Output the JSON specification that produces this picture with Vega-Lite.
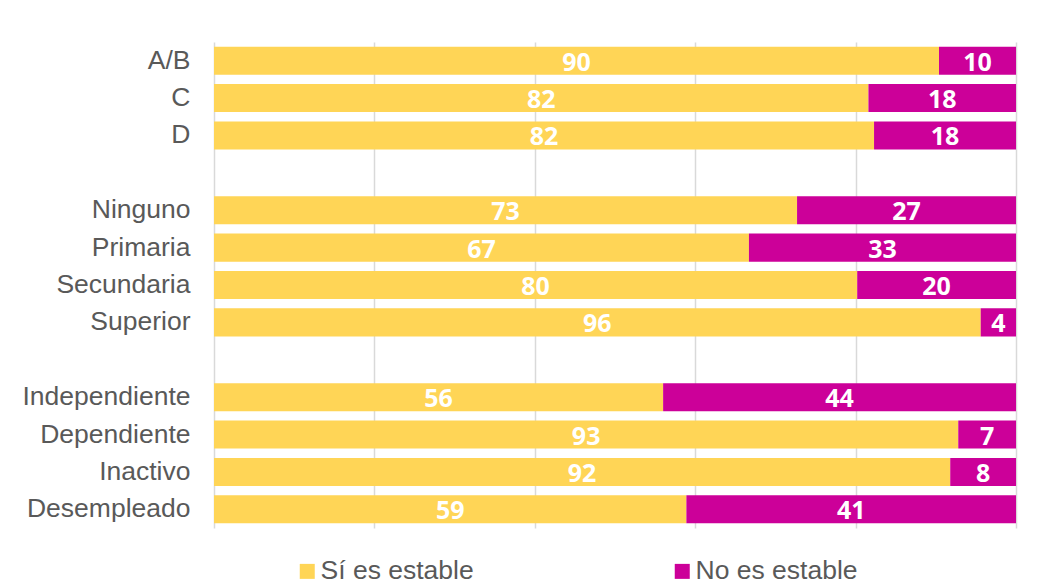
{
  "$schema": "https://vega.github.io/schema/vega-lite/v6.json",
  "autosize": {"type": "none"},
  "width": 802,
  "height": 486,
  "padding": {"left": 214, "top": 42, "right": 41, "bottom": 57},
  "background": "white",
  "data": {"values": [
    {"cat": "A/B", "estado": "Sí es estable", "orden": 1, "value": 90.4},
    {"cat": "A/B", "estado": "No es estable", "orden": 2, "value": 9.6},
    {"cat": "C", "estado": "Sí es estable", "orden": 1, "value": 81.6},
    {"cat": "C", "estado": "No es estable", "orden": 2, "value": 18.4},
    {"cat": "D", "estado": "Sí es estable", "orden": 1, "value": 82.3},
    {"cat": "D", "estado": "No es estable", "orden": 2, "value": 17.7},
    {"cat": "Ninguno", "estado": "Sí es estable", "orden": 1, "value": 72.7},
    {"cat": "Ninguno", "estado": "No es estable", "orden": 2, "value": 27.3},
    {"cat": "Primaria", "estado": "Sí es estable", "orden": 1, "value": 66.7},
    {"cat": "Primaria", "estado": "No es estable", "orden": 2, "value": 33.3},
    {"cat": "Secundaria", "estado": "Sí es estable", "orden": 1, "value": 80.2},
    {"cat": "Secundaria", "estado": "No es estable", "orden": 2, "value": 19.8},
    {"cat": "Superior", "estado": "Sí es estable", "orden": 1, "value": 95.6},
    {"cat": "Superior", "estado": "No es estable", "orden": 2, "value": 4.4},
    {"cat": "Independiente", "estado": "Sí es estable", "orden": 1, "value": 56.0},
    {"cat": "Independiente", "estado": "No es estable", "orden": 2, "value": 44.0},
    {"cat": "Dependiente", "estado": "Sí es estable", "orden": 1, "value": 92.8},
    {"cat": "Dependiente", "estado": "No es estable", "orden": 2, "value": 7.2},
    {"cat": "Inactivo", "estado": "Sí es estable", "orden": 1, "value": 91.8},
    {"cat": "Inactivo", "estado": "No es estable", "orden": 2, "value": 8.2},
    {"cat": "Desempleado", "estado": "Sí es estable", "orden": 1, "value": 58.9},
    {"cat": "Desempleado", "estado": "No es estable", "orden": 2, "value": 41.1}
  ]},
  "transform": [
    {"stack": "value", "groupby": ["cat"], "sort": [{"field": "orden"}], "as": ["v0", "v1"]},
    {"calculate": "(datum.v0 + datum.v1) / 2", "as": "mid"}
  ],
  "encoding": {
    "y": {
      "field": "cat",
      "type": "nominal",
      "scale": {
        "domain": ["A/B", "C", "D", " ", "Ninguno", "Primaria", "Secundaria", "Superior", "  ", "Independiente", "Dependiente", "Inactivo", "Desempleado"],
        "paddingInner": 0.25,
        "paddingOuter": 0.125
      },
      "axis": {
        "title": null,
        "domain": false,
        "ticks": false,
        "labelPadding": 24,
        "labelFont": "Liberation Sans",
        "labelFontSize": 26.5,
        "labelColor": "#595959",
        "labelLimit": 300
      }
    }
  },
  "layer": [
    {
      "mark": {"type": "bar"},
      "encoding": {
        "x": {
          "field": "v0",
          "type": "quantitative",
          "scale": {"domain": [0, 100], "nice": false},
          "axis": {
            "title": null,
            "labels": false,
            "ticks": false,
            "domain": false,
            "grid": true,
            "gridColor": "#d9d9d9",
            "gridWidth": 1.5,
            "values": [0, 20, 40, 60, 80, 100]
          }
        },
        "x2": {"field": "v1"},
        "color": {
          "field": "estado",
          "type": "nominal",
          "scale": {"domain": ["Sí es estable", "No es estable"], "range": ["#FFD556", "#CC0099"]},
          "legend": {
            "title": null,
            "orient": "none",
            "legendX": 80,
            "legendY": 516,
            "direction": "horizontal",
            "symbolType": "square",
            "symbolSize": 225,
            "symbolStrokeWidth": 0,
            "labelFont": "Liberation Sans",
            "labelFontSize": 26.5,
            "labelColor": "#595959",
            "labelOffset": 0,
            "columnPadding": 195,
            "labelLimit": 300
          }
        }
      }
    },
    {
      "mark": {"type": "text", "color": "white", "font": "Open Sans", "fontWeight": "bold", "fontSize": 25, "baseline": "middle", "dy": 2},
      "encoding": {
        "x": {"field": "mid", "type": "quantitative"},
        "text": {"field": "value", "type": "quantitative", "format": ".0f"}
      }
    }
  ],
  "config": {"view": {"stroke": null}}
}
